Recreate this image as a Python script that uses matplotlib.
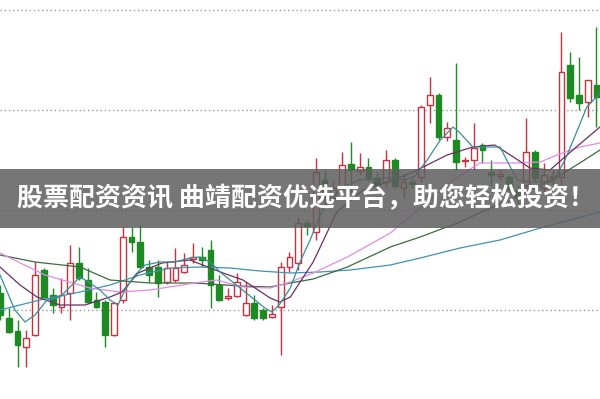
import numpy as np
import matplotlib
matplotlib.use("Agg")
import matplotlib.pyplot as plt
from matplotlib.patches import Rectangle

plt.rcParams['font.family'] = ['Noto Sans CJK SC', 'DejaVu Sans']

# --- daily candles (price units) ---
opens = [6.085, 5.96, 5.895, 5.815, 5.875, 6.20, 6.075, 6.015, 6.085, 6.235,
         6.15, 6.05, 6.04, 5.875, 6.05, 6.365, 6.34, 6.215, 6.215, 6.14,
         6.15, 6.19, 6.255, 6.265, 6.30, 6.125, 6.06, 6.07, 5.975, 6.035,
         6.00, 5.965, 6.015, 6.215, 6.235, 6.435, 6.39, 6.65, 6.56, 6.61,
         6.73, 6.695, 6.715, 6.66, 6.64, 6.75, 6.61, 6.64, 6.665, 7.025,
         7.075, 6.865, 6.85, 6.745, 6.75, 6.825, 6.69, 6.67, 6.665, 6.60,
         6.625, 6.79, 6.61, 6.66, 6.665, 7.225, 7.075, 7.04, 7.125]
highs = [6.125, 6.01, 5.95, 5.90, 6.24, 6.21, 6.11, 6.16, 6.325, 6.315,
         6.21, 6.09, 6.05, 6.04, 6.415, 6.415, 6.425, 6.25, 6.25, 6.24,
         6.31, 6.285, 6.335, 6.315, 6.35, 6.175, 6.11, 6.185, 6.14, 6.075,
         6.01, 6.025, 6.24, 6.29, 6.465, 6.45, 6.76, 6.70, 6.65, 6.79,
         6.84, 6.785, 6.76, 6.69, 6.80, 6.76, 6.675, 6.66, 7.025, 7.165,
         7.085, 6.94, 7.235, 6.765, 6.935, 6.835, 6.75, 6.70, 6.675, 6.625,
         6.96, 6.80, 6.735, 6.70, 7.39, 7.29, 7.265, 7.15, 7.415]
lows = [5.95, 5.885, 5.715, 5.715, 5.87, 6.06, 5.985, 5.985, 5.95, 6.15,
        6.035, 6.01, 5.815, 5.87, 6.035, 6.29, 6.21, 6.14, 6.065, 6.13,
        6.14, 6.185, 6.235, 6.215, 6.01, 6.045, 6.05, 6.065, 5.97, 5.95,
        5.95, 5.96, 5.775, 6.19, 6.20, 6.375, 6.35, 6.525, 6.525, 6.60,
        6.585, 6.675, 6.645, 6.60, 6.615, 6.61, 6.56, 6.61, 6.64, 6.935,
        6.85, 6.845, 6.70, 6.715, 6.70, 6.735, 6.625, 6.65, 6.575, 6.525,
        6.60, 6.64, 6.59, 6.625, 6.625, 7.04, 7.00, 6.965, 6.915]
closes = [5.975, 5.89, 5.825, 5.86, 6.175, 6.065, 6.025, 6.075, 6.235, 6.16,
          6.04, 6.015, 5.875, 6.035, 6.365, 6.34, 6.215, 6.175, 6.135, 6.21,
          6.21, 6.225, 6.265, 6.25, 6.125, 6.05, 6.07, 6.14, 6.035, 5.96,
          5.96, 5.98, 6.215, 6.265, 6.435, 6.42, 6.69, 6.575, 6.61, 6.725,
          6.70, 6.715, 6.66, 6.625, 6.75, 6.62, 6.64, 6.63, 7.015, 7.075,
          6.865, 6.91, 6.74, 6.75, 6.81, 6.80, 6.675, 6.68, 6.60, 6.56,
          6.79, 6.66, 6.675, 6.67, 7.19, 7.06, 7.035, 7.15, 7.065]

# --- moving average traces (candle index, price) ---
ma5_x = [0, 1.7, 2.85, 4.0, 5.36, 6.84, 7.98, 9.12, 10.26, 11.4, 12.54, 13.45,
         14.25, 15.39, 16.53, 18.24, 19.95, 21.66, 22.8, 23.95, 25.09, 26.8,
         28.5, 30.2, 31.0, 31.9, 33.1, 34.2, 35.35, 36.5, 37.6, 39.3, 41.0,
         42.8, 44.5, 46.2, 47.3, 48.7, 50.2, 51.65, 52.45, 53.9, 57.0, 58.95,
         60.4, 63.05, 64.4, 65.6, 66.9, 68.4]
ma5_y = [6.175, 6.0, 5.94, 5.975, 6.05, 6.065, 6.115, 6.165, 6.135, 6.10, 6.05,
         6.025, 6.10, 6.175, 6.225, 6.24, 6.24, 6.26, 6.265, 6.24, 6.19, 6.13,
         6.07, 6.01, 5.99, 6.03, 6.11, 6.24, 6.35, 6.475, 6.55, 6.62, 6.65,
         6.655, 6.66, 6.65, 6.67, 6.75, 6.85, 6.915, 6.885, 6.815, 6.815, 6.65,
         6.64, 6.64, 6.75, 6.875, 7.015, 7.085]
ma10_x = [0, 2.28, 4.22, 6.84, 9.69, 12.54, 13.9, 15.74, 18.47, 21.66, 25.43,
          27.7, 30.8, 31.9, 33.1, 35.7, 38.4, 41.4, 44.5, 47.1, 50.97, 53.9,
          56.4, 58.7, 60.4, 62.7, 65.3, 68.4]
ma10_y = [6.215, 6.125, 6.065, 6.025, 6.025, 6.065, 6.09, 6.185, 6.235, 6.25,
          6.185, 6.15, 6.06, 6.04, 6.065, 6.24, 6.49, 6.60, 6.645, 6.69, 6.775,
          6.815, 6.825, 6.76, 6.71, 6.70, 6.80, 6.915]
ma20_x = [0, 5.13, 10.26, 13.68, 17.1, 22.2, 24.7, 27.7, 30.8, 33.1, 35.7, 39.6,
          44.5, 47.9, 51.3, 54.7, 58.5, 61.6, 63.5, 66.1, 68.4]
ma20_y = [6.285, 6.175, 6.11, 6.09, 6.10, 6.135, 6.15, 6.115, 6.11, 6.14, 6.185,
          6.265, 6.385, 6.51, 6.64, 6.735, 6.735, 6.74, 6.775, 6.815, 6.835]
ma30_x = [0, 4.0, 9.12, 12.54, 17.1, 22.2, 27.4, 30.8, 33.1, 35.7, 39.6, 44.5,
          47.9, 52.45, 55.9, 59.3, 63.5, 66.1, 68.4]
ma30_y = [6.275, 6.24, 6.215, 6.15, 6.135, 6.135, 6.12, 6.115, 6.135, 6.155,
          6.215, 6.315, 6.365, 6.44, 6.51, 6.575, 6.665, 6.735, 6.80]
ma60_x = [0, 4.56, 9.12, 12.54, 15.96, 19.4, 22.8, 26.2, 29.65, 33.1, 36.5, 39.9,
          44.5, 47.9, 52.45, 57.0, 61.6, 65.0, 68.4]
ma60_y = [6.0, 6.05, 6.09, 6.125, 6.175, 6.21, 6.215, 6.21, 6.195, 6.185, 6.19,
          6.20, 6.225, 6.26, 6.31, 6.35, 6.41, 6.45, 6.49]

grid_levels = [7.5, 7.0, 6.5, 6.0]
banner_text = "股票配资资讯 曲靖配资优选平台，助您轻松投资！"

up_col = '#c8323e'
down_col = '#1e8a24'

fig = plt.figure(figsize=(6, 3.99), dpi=100)
ax = fig.add_axes([0, 0, 1, 1])
ax.set_xlim(0, 68.4)
ax.set_ylim(5.555, 7.55)
ax.axis('off')

for lv in grid_levels:
    ax.axhline(lv, color='#9a9a9a', lw=1, ls=(0, (1, 2)), zorder=0)

o = np.array(opens); h = np.array(highs); l = np.array(lows); c = np.array(closes)
idx = np.arange(len(o))
up = c >= o
w = 0.66
for i in idx:
    col = up_col if up[i] else down_col
    ax.vlines(i, l[i], h[i], color=col, lw=1, zorder=2)
    bot = min(o[i], c[i])
    ht = max(abs(c[i] - o[i]), 0.006)
    ax.bar(i, ht, bottom=bot, width=w,
           facecolor='white' if up[i] else col,
           edgecolor=col, linewidth=1, zorder=3)

ax.plot(ma60_x, ma60_y, color='#3f93b5', lw=0.9, zorder=4)
ax.plot(ma30_x, ma30_y, color='#3d6b3d', lw=0.9, zorder=4)
ax.plot(ma20_x, ma20_y, color='#e38ae6', lw=0.9, zorder=4)
ax.plot(ma10_x, ma10_y, color='#6d2f63', lw=0.9, zorder=4)
ax.plot(ma5_x, ma5_y, color='#3a8f96', lw=0.9, zorder=4)

# grey banner across the middle
fig.patches.append(Rectangle((0, 1 - 228 / 399), 1, 59 / 399,
                             transform=fig.transFigure, facecolor='#5e5e5e',
                             alpha=0.85, edgecolor='none', zorder=10))
fig.text(0.51, 1 - 199 / 399, banner_text, color='white', fontsize=18.7,
         fontweight='bold', ha='center', va='center', zorder=11)

fig.savefig('out.png', dpi=100)
